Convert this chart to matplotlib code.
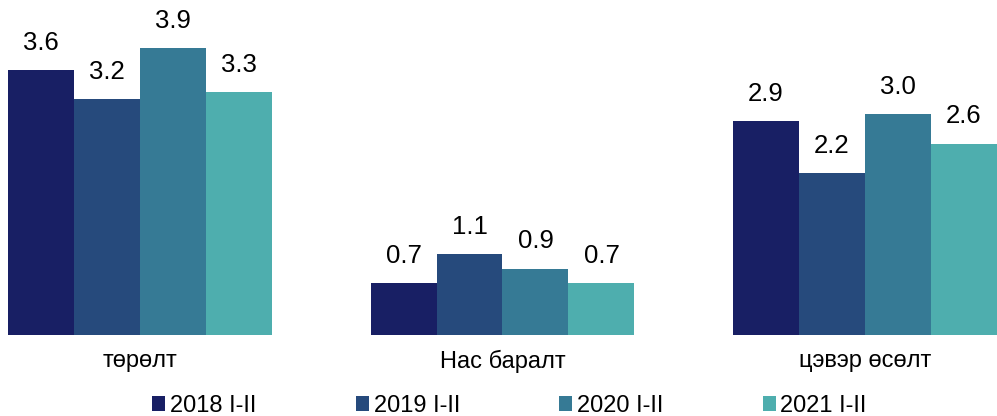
import numpy as np
import matplotlib.pyplot as plt

plt.rcParams['font.family'] = ['Liberation Sans', 'DejaVu Sans']

categories = ['төрөлт', 'Нас баралт', 'цэвэр өсөлт']
series = ['2018 I-II', '2019 I-II', '2020 I-II', '2021 I-II']
values = [
    [3.6, 0.7, 2.9],
    [3.2, 1.1, 2.2],
    [3.9, 0.9, 3.0],
    [3.3, 0.7, 2.6],
]
colors = ['#181f64', '#264a7c', '#367a95', '#4eaeae']

fig = plt.figure(figsize=(9.97, 4.16), dpi=100)
ax = fig.add_axes([0, 0.195, 1, 0.805])

x = np.arange(len(categories))
w = 0.182
for i, (name, vals) in enumerate(zip(series, values)):
    pos = x + (i - 1.5) * w
    bars = ax.bar(pos, vals, w, color=colors[i], label=name)
    for b, v in zip(bars, vals):
        ax.annotate(f'{v:.1f}', (b.get_x() + b.get_width() / 2, v),
                    xytext=(0, 11), textcoords='offset points',
                    ha='center', va='bottom', fontsize=18.5)

ax.set_xlim(-0.386, 2.364)
ax.set_ylim(0, 4.55)
ax.set_xticks(x)
ax.set_xticklabels(categories, fontsize=17)
ax.tick_params(axis='x', length=0, pad=11)
ax.set_yticks([])
for s in ax.spines.values():
    s.set_visible(False)

fig.legend(loc='center', bbox_to_anchor=(0.511, 0.024), ncol=4,
           frameon=False, fontsize=17, handlelength=0.56, handleheight=0.56,
           handletextpad=0.2, columnspacing=4.2, borderpad=0)

fig.savefig('out.png', dpi=100)
